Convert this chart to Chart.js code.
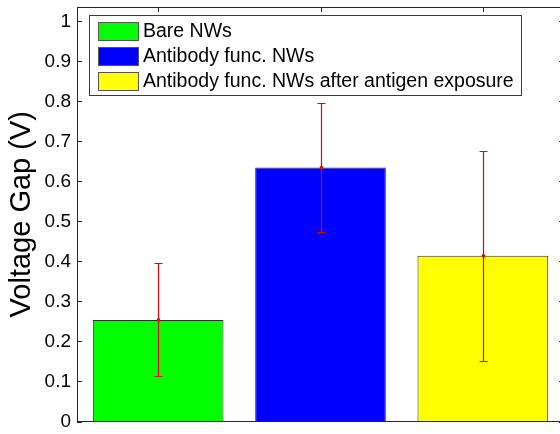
<!DOCTYPE html>
<html>
<head>
<meta charset="utf-8">
<script src="https://cdn.jsdelivr.net/npm/chart.js@4.4.1/dist/chart.umd.min.js"></script>
<style>
  html, body { margin: 0; padding: 0; background: #fff; overflow: hidden; }
  #wrap { width: 560px; height: 434px; overflow: hidden; }
</style>
</head>
<body>
<div id="wrap"><canvas id="gap" width="566" height="434"></canvas></div>
<script>
const groups = ['Bare NWs', 'Antibody func. NWs', 'Antibody func. NWs after antigen exposure']
const gapMeans = [0.254, 0.635, 0.414]
const gapErrors = [0.141, 0.162, 0.263]
const barColors = ['#00ff00', '#0000ff', '#ffff00']
const yTicks = [0, 0.1, 0.2, 0.3, 0.4, 0.5, 0.6, 0.7, 0.8, 0.9, 1]

const FONT = 'Arial, "Liberation Sans", sans-serif'
const AXIS = '#262626'

// red error bars with caps and a dot at the mean
const errorBars = {
  id: 'errorBars',
  afterDatasetsDraw(chart) {
    const {ctx, scales: {y}} = chart
    const meta = chart.getDatasetMeta(0)
    ctx.save()
    ctx.strokeStyle = '#ee0000'
    ctx.fillStyle = '#ee0000'
    ctx.lineWidth = 1.2
    gapMeans.forEach((m, i) => {
      const px = Math.round(meta.data[i].x) + 0.5
      const hi = Math.round(y.getPixelForValue(m + gapErrors[i])) + 0.5
      const lo = Math.round(y.getPixelForValue(m - gapErrors[i])) + 0.5
      ctx.beginPath()
      ctx.moveTo(px, hi); ctx.lineTo(px, lo)
      ctx.moveTo(px - 4, hi); ctx.lineTo(px + 4, hi)
      ctx.moveTo(px - 4, lo); ctx.lineTo(px + 4, lo)
      ctx.stroke()
      ctx.beginPath()
      ctx.arc(px, y.getPixelForValue(m), 1.8, 0, Math.PI * 2)
      ctx.fill()
    })
    ctx.restore()
  }
}

// box around the plot plus inward tick marks
const axesFrame = {
  id: 'axesFrame',
  afterDraw(chart) {
    const {ctx, chartArea: a, scales: {x, y}} = chart
    ctx.save()
    ctx.strokeStyle = AXIS
    ctx.lineWidth = 1
    ctx.beginPath()
    ctx.moveTo(a.left, a.top + 0.5); ctx.lineTo(a.right, a.top + 0.5)
    ctx.moveTo(a.right - 0.5, a.top); ctx.lineTo(a.right - 0.5, a.bottom)
    y.ticks.forEach((t, i) => {
      const py = Math.round(y.getPixelForTick(i)) + 0.5
      ctx.moveTo(a.left, py); ctx.lineTo(a.left + 5, py)
      ctx.moveTo(a.right, py); ctx.lineTo(a.right - 5, py)
    })
    x.ticks.forEach((t, i) => {
      const px = Math.round(x.getPixelForTick(i)) + 0.5
      ctx.moveTo(px, a.top); ctx.lineTo(px, a.top + 5)
    })
    ctx.stroke()
    ctx.restore()
  }
}

// legend box in the upper left corner of the plot
const boxLegend = {
  id: 'boxLegend',
  afterDraw(chart) {
    const {ctx} = chart
    const colors = chart.data.datasets[0].backgroundColor
    ctx.save()
    ctx.font = '19.5px ' + FONT
    const textW = Math.max(...groups.map(g => ctx.measureText(g).width))
    const left = 89.5, top = 15.5
    const w = Math.round(143 + textW + 8 - left), h = 80
    ctx.fillStyle = '#fff'
    ctx.fillRect(left, top, w, h)
    ctx.strokeStyle = '#3a3a3a'
    ctx.lineWidth = 1
    ctx.strokeRect(left, top, w, h)
    ctx.textBaseline = 'middle'
    groups.forEach((name, i) => {
      const cy = Math.round(31 + i * 24.8)
      ctx.fillStyle = colors[i]
      ctx.fillRect(98, cy - 9, 41, 18)
      ctx.strokeStyle = '#555'
      ctx.strokeRect(98.5, cy - 8.5, 40, 18)
      ctx.fillStyle = '#000'
      ctx.fillText(name, 143, cy + 1)
    })
    ctx.restore()
  }
}

new Chart(document.getElementById('gap'), {
  type: 'bar',
  data: {
    labels: groups,
    datasets: [{
      data: gapMeans,
      backgroundColor: barColors,
      borderColor: '#303030',
      borderWidth: 1,
      barPercentage: 0.805,
      categoryPercentage: 1
    }]
  },
  options: {
    responsive: false,
    animation: false,
    devicePixelRatio: 1,
    layout: {padding: {top: 7, right: 2, left: 0, bottom: 0}},
    plugins: {
      legend: {display: false},
      tooltip: {enabled: false}
    },
    scales: {
      x: {
        grid: {display: false, drawTicks: false},
        ticks: {display: false},
        border: {display: true, color: AXIS, width: 1, z: 1},
        afterFit: s => { s.height = 12.5 }
      },
      y: {
        min: 0,
        max: 1.036,
        grid: {display: false, drawTicks: false},
        border: {display: true, color: AXIS, width: 1, z: 1},
        afterBuildTicks: s => { s.ticks = yTicks.map(v => ({value: v})) },
        afterFit: s => { s.width = 77; s.paddingTop = 0; s.paddingBottom = 0 },
        ticks: {
          padding: 6,
          color: '#000',
          font: {family: FONT, size: 19, lineHeight: 0.2},
          callback: v => String(Number(v.toFixed(1)))
        },
        title: {
          display: true,
          text: 'Voltage Gap (V)',
          color: '#000',
          font: {family: FONT, size: 29},
          padding: {top: 5, bottom: 0}
        }
      }
    }
  },
  plugins: [errorBars, axesFrame, boxLegend]
})
</script>
</body>
</html>
